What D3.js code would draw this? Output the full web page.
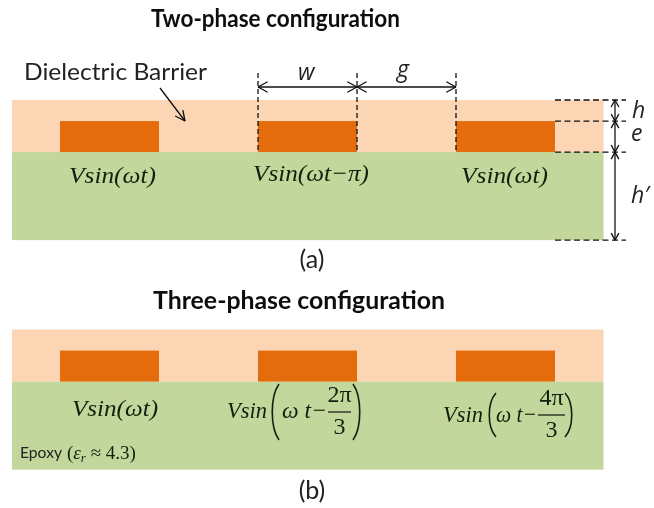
<!DOCTYPE html>
<html><head><meta charset="utf-8">
<script src="https://cdnjs.cloudflare.com/ajax/libs/d3/7.8.5/d3.min.js"></script>
<style>html,body{margin:0;padding:0;background:#fff}svg{display:block}</style>
</head><body><svg id="c" width="654" height="508"></svg>
<script>
// Geometry in units of the electrode width w (horizontal) and of e (vertical)
const electrodeStarts = [0, 2, 4];
const electrodeWidth = 1;
const boardExtent = [-0.485, 5.49];
const layerNames = ["top", "electrode", "bottom", "end"];
const layerDepth = [0, 0.68, 1.68, 4.52];
const dimensionStops = [2, 3, 4];
const panels = ["a", "b"];
const panelTitles = ["Two-phase configuration", "Three-phase configuration"];
const panelLabels = ["(a)", "(b)"];
const panelTops = [100, 329.5];
const colors = {dielectric:"#fcd5b5", electrode:"#e46c0a", substrate:"#c3d69b", ink:"#111"};

const svg = d3.select("#c");
svg.append("defs").append("filter").attr("id","soft").append("feGaussianBlur").attr("stdDeviation",0.4);
const g = svg.append("g").attr("filter","url(#soft)");
const x = d3.scaleLinear().domain([0,1]).range([60,159]);
const depth = d3.scaleLinear().domain([0,1]).range([0,31]);
const SERIF = "'Liberation Serif',serif", SANS = "Lato,sans-serif", SANS2 = "'Open Sans',sans-serif";

panelTops.forEach(top=>{
  const y = d => top + depth(d);
  g.append("rect").attr("x",x(boardExtent[0])).attr("width",x(boardExtent[1])-x(boardExtent[0]))
    .attr("y",y(layerDepth[0])).attr("height",y(layerDepth[2])-y(layerDepth[0])).attr("fill",colors.dielectric);
  g.append("rect").attr("x",x(boardExtent[0])).attr("width",x(boardExtent[1])-x(boardExtent[0]))
    .attr("y",y(layerDepth[2])).attr("height",y(layerDepth[3])-y(layerDepth[2])).attr("fill",colors.substrate);
  g.selectAll(null).data(electrodeStarts).join("rect")
    .attr("x",d=>x(d)).attr("width",x(electrodeWidth)-x(0))
    .attr("y",y(layerDepth[1])).attr("height",y(layerDepth[2])-y(layerDepth[1])).attr("fill",colors.electrode);
});

function text(s,px,py,o={}){
  const t=g.append("text").attr("x",px).attr("y",py).text(s)
    .attr("font-family",o.f||SANS).attr("font-size",o.s||20).attr("fill",o.c||colors.ink)
    .attr("text-anchor",o.a||"start");
  if(o.i)t.attr("font-style","italic");
  if(o.b)t.attr("font-weight",700);
  if(o.len)t.attr("textLength",o.len).attr("lengthAdjust","spacingAndGlyphs");
  return t;
}
// Titles and panel labels
text(panelTitles[0],151,27,{b:1,s:24,len:249});
text(panelTitles[1],153,309,{b:1,s:24,len:292});
text(panelLabels[0],312,268,{a:"middle",s:25,c:"#222"});
text(panelLabels[1],312,499,{a:"middle",s:25,c:"#222"});
text("Dielectric Barrier",24,80,{s:24,len:183,c:"#222"});

// Line helpers
function line(x1,y1,x2,y2,dash,w){
  const l=g.append("line").attr("x1",x1).attr("y1",y1).attr("x2",x2).attr("y2",y2)
    .attr("stroke","#111").attr("stroke-width",w||1.3);
  if(dash)l.attr("stroke-dasharray",dash);
}
function arrowHead(px,py,ang,size=11,sp=0.5){
  [ang+Math.PI-sp,ang+Math.PI+sp].forEach(a=>line(px,py,px+size*Math.cos(a),py+size*Math.sin(a)));
}
function dbl(x1,y1,x2,y2,size){
  line(x1,y1,x2,y2);
  const a=Math.atan2(y2-y1,x2-x1);
  arrowHead(x2,y2,a,size); arrowHead(x1,y1,a+Math.PI,size);
}
// Leader arrow
line(160,88,185,121); arrowHead(185,121,Math.atan2(33,25),11,0.45);

// Dimension lines
const py = d => panelTops[0]+depth(d);
dimensionStops.forEach(u=>line(x(u),73,x(u),py(layerDepth[2]),"5 3"));
dbl(x(2),87,x(3),87); dbl(x(3),87,x(4),87);
const dimX = 615;
layerDepth.forEach(d=>line(x(5),py(d),626,py(d),"6 3.5"));
[0,1,2].forEach(i=>dbl(dimX,py(layerDepth[i]),dimX,py(layerDepth[i+1]),8));
text("w",298,80,{i:1,s:23,f:SANS2,c:"#222"});
text("g",397,77,{i:1,s:23,f:SANS2,c:"#222"});
text("h",632,118,{i:1,s:23,f:SANS2,c:"#222"});
text("e",631,141,{i:1,s:23,f:SANS2,c:"#222"});
text("h′",631,203,{i:1,s:23,f:SANS2,c:"#222"});

// Formulas
const INK="#10240f", MS=24;
function vsin(px,py,len){ return text("Vsin(ωt)",px,py,{f:SERIF,i:1,s:MS,len,c:INK}); }
vsin(69,183,87);
text("Vsin(ωt−π)",253,181,{f:SERIF,i:1,s:MS,len:116,c:INK});
vsin(461,183,87);
vsin(72,416,86);

function bigParen(cx,y1,y2,dir){ // dir -1: opening, 1: closing
  const mid=(y1+y2)/2, b=(y2-y1)*0.5;
  const p=d3.path();
  p.moveTo(cx-dir*5,y1);
  p.bezierCurveTo(cx+dir*4,mid-b*0.55,cx+dir*4,mid+b*0.55,cx-dir*5,y2);
  g.append("path").attr("d",p.toString()).attr("fill","none").attr("stroke",INK).attr("stroke-width",1.6);
}
function phase(vx,base,vLen,p1,p2,top,bot,wx,wLen,bx1,bx2,barY,num,numBase,denBase){
  text("Vsin",vx,base,{f:SERIF,i:1,s:MS,len:vLen,c:INK});
  bigParen(p1,top,bot,-1);
  text("ω t−",wx,base,{f:SERIF,i:1,s:MS,len:wLen,c:INK});
  line(bx1,barY,bx2,barY,null,1.2);
  text(num,(bx1+bx2)/2,numBase,{f:SERIF,s:MS,a:"middle",c:INK});
  text("3",(bx1+bx2)/2,denBase,{f:SERIF,s:MS,a:"middle",c:INK});
  bigParen(p2,top,bot,1);
}
phase(227,418,40,274,358,384,440,282,45,328,351,412,"2π",402,434);
phase(443,422,40,491,570,393,437,496,41,538,565,415,"4π",405,437);

text("Epoxy",20,458,{s:15,len:42,c:"#222"});
const ep=text("",67,459,{f:SERIF,s:19,c:INK});
ep.append("tspan").text("(");
ep.append("tspan").attr("font-style","italic").text("ε");
ep.append("tspan").attr("font-style","italic").attr("font-size",13).attr("dy",3).text("r");
ep.append("tspan").attr("dy",-3).text(" ≈ 4.3)");
</script></body></html>
